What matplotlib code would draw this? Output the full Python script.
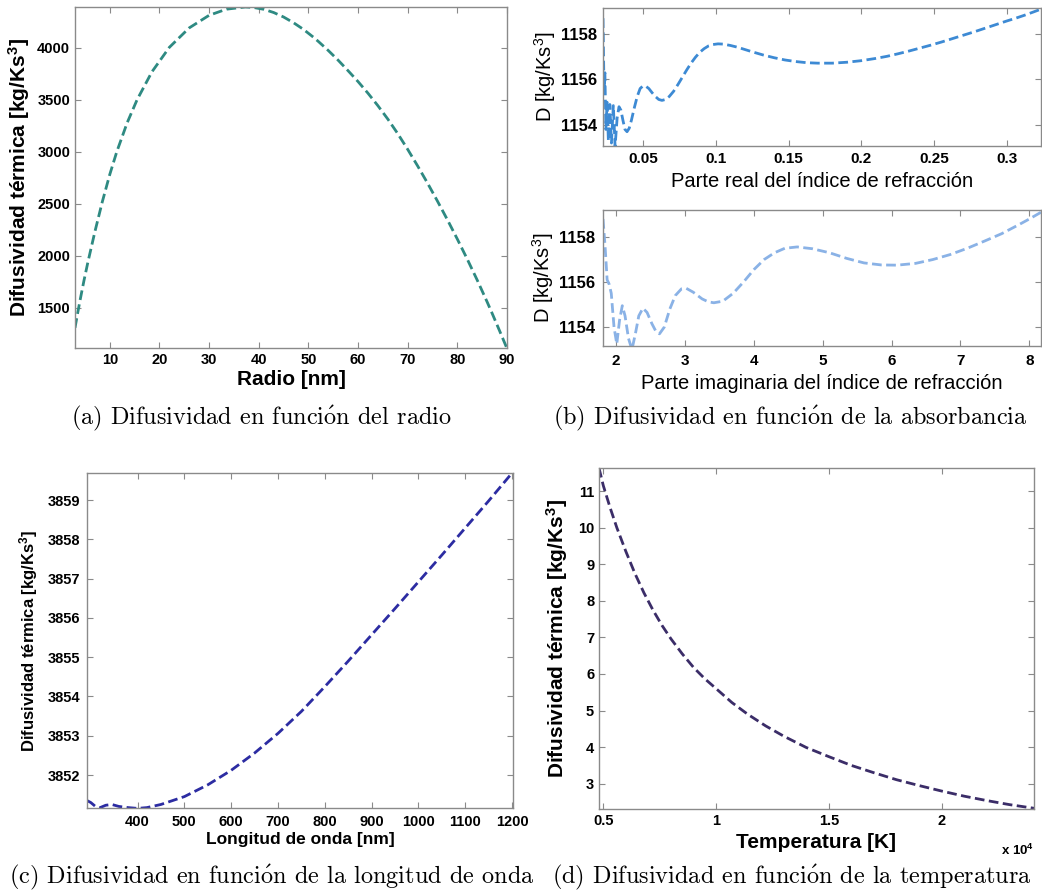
import numpy as np
import matplotlib
matplotlib.use('Agg')
import matplotlib.pyplot as plt
from matplotlib.ticker import FuncFormatter


# (a) difusividad vs radio
radio_nm = [3, 3.5, 4, 4.8, 5.6, 7, 8.5, 10, 11.4, 13.5, 15.5, 18.5, 22, 26,
            30, 33.5, 37.3, 39, 41, 43, 45, 47, 49, 51, 52, 54, 56, 58, 60,
            62, 64, 66, 68, 70, 72, 74, 76, 78, 80, 82, 84, 86, 87, 88.5, 90]
dif_radio = [1309, 1441, 1569, 1762, 1941, 2232, 2521, 2783, 3000, 3280,
             3502, 3771, 4006, 4193, 4314, 4373, 4394, 4389, 4372, 4341,
             4298, 4243, 4179, 4104, 4063, 3976, 3882, 3781, 3677, 3565,
             3445, 3316, 3176, 3025, 2866, 2700, 2527, 2348, 2162, 1969,
             1768, 1558, 1449, 1281, 1110]

# (b) parte real del indice
n_real = [0.0225, 0.0232, 0.0238, 0.0245, 0.0253, 0.0262, 0.0272, 0.0283,
          0.0296, 0.0308, 0.0322, 0.0335, 0.0348, 0.0362, 0.0376, 0.0390,
          0.0405, 0.0420, 0.0440, 0.0460, 0.0480, 0.0500, 0.0520, 0.0540,
          0.0562, 0.0585, 0.0608, 0.0630, 0.0655, 0.0680, 0.0710, 0.0740,
          0.0770, 0.0800, 0.0830, 0.0860, 0.0890, 0.0920, 0.0950, 0.0980,
          0.1015, 0.1050, 0.1100, 0.1150, 0.1200, 0.1250, 0.1325, 0.1400,
          0.1475, 0.1550, 0.1625, 0.1700, 0.1800, 0.1900, 0.2000, 0.2100,
          0.2175, 0.2250, 0.2325, 0.2400, 0.2475, 0.2550, 0.2625, 0.2700,
          0.2775, 0.2850, 0.2925, 0.3000, 0.3060, 0.3120, 0.3180, 0.3234]
dif_real = [1158.7, 1155.6, 1156.3, 1153.8, 1155.0, 1153.3, 1154.9, 1153.2,
            1154.85, 1153.05, 1154.3, 1154.8, 1154.65, 1154.2, 1153.8, 1153.7,
            1153.85, 1154.2, 1154.75, 1155.25, 1155.6, 1155.72, 1155.7, 1155.6,
            1155.42, 1155.25, 1155.12, 1155.08, 1155.12, 1155.25, 1155.48,
            1155.78, 1156.1, 1156.42, 1156.72, 1156.98, 1157.2, 1157.36,
            1157.48, 1157.54, 1157.57, 1157.56, 1157.5, 1157.42, 1157.32,
            1157.22, 1157.08, 1156.96, 1156.86, 1156.79, 1156.74, 1156.72,
            1156.72, 1156.76, 1156.83, 1156.93, 1157.02, 1157.13, 1157.25,
            1157.38, 1157.51, 1157.65, 1157.8, 1157.95, 1158.1, 1158.26,
            1158.42, 1158.58, 1158.7, 1158.83, 1158.97, 1159.1]

# (b) parte imaginaria del indice
n_imag = [1.81, 1.84, 1.87, 1.90, 1.93, 1.97, 2.01, 2.05, 2.09, 2.13, 2.18,
          2.23, 2.28, 2.33, 2.39, 2.45, 2.52, 2.58, 2.63, 2.70, 2.78, 2.86,
          2.95, 3.02, 3.12, 3.25, 3.34, 3.42, 3.55, 3.70, 3.85, 4.00, 4.15,
          4.30, 4.45, 4.63, 4.85, 5.10, 5.35, 5.60, 5.85, 6.08, 6.35, 6.60,
          6.85, 7.10, 7.35, 7.60, 7.85, 8.00, 8.17]
dif_imag = [1158.8, 1157.6, 1156.1, 1155.9, 1155.5, 1154.0, 1153.25, 1154.3,
            1154.95, 1154.5, 1153.5, 1153.0, 1153.7, 1154.5, 1154.84, 1154.65,
            1154.15, 1153.8, 1153.7, 1154.0, 1154.8, 1155.4, 1155.7, 1155.72,
            1155.55, 1155.25, 1155.12, 1155.08, 1155.15, 1155.5, 1156.0,
            1156.55, 1157.0, 1157.3, 1157.5, 1157.56, 1157.48, 1157.3, 1157.05,
            1156.85, 1156.76, 1156.75, 1156.83, 1157.0, 1157.22, 1157.5,
            1157.82, 1158.15, 1158.55, 1158.8, 1159.1]

# (c) longitud de onda
lambda_nm = [292, 300, 310, 320, 332, 345, 360, 380, 400, 420, 450, 500, 550,
             600, 650, 700, 750, 800, 850, 900, 950, 1000, 1050, 1100, 1150,
             1200]
dif_lambda = [3851.35, 3851.3, 3851.2, 3851.17, 3851.23, 3851.25, 3851.2,
              3851.17, 3851.15, 3851.17, 3851.25, 3851.45, 3851.75, 3852.12,
              3852.56, 3853.06, 3853.62, 3854.25, 3854.9, 3855.57, 3856.24,
              3856.92, 3857.6, 3858.29, 3858.98, 3859.69]

# (d) temperatura
temp_K = [4810, 5000, 5300, 5600, 6000, 6400, 6800, 7200, 7600, 8000, 8500,
          9000, 9500, 10000, 10700, 11400, 12200, 13000, 14000, 15000, 16000,
          17000, 18000, 19000, 20000, 21000, 22000, 23000, 24090]
dif_temp = [11.63, 11.15, 10.55, 10.0, 9.35, 8.75, 8.22, 7.75, 7.33, 6.96,
            6.55, 6.18, 5.87, 5.60, 5.22, 4.90, 4.58, 4.30, 3.99, 3.74, 3.50,
            3.30, 3.11, 2.95, 2.80, 2.66, 2.54, 2.43, 2.33]

captions = ['(a) Difusividad en función del radio',
            '(b) Difusividad en función de la absorbancia',
            '(c) Difusividad en función de la longitud de onda',
            '(d) Difusividad en función de la temperatura']

SANS = ['Liberation Sans', 'DejaVu Sans']
YLAB = 'Difusividad térmica [kg/Ks$^3$]'


def style_axes(ax, ticksize=10.5, xticksize=None, pad=3.5):
    for s in ax.spines.values():
        s.set_color('#8a8a8a')
        s.set_linewidth(1.0)
    ax.tick_params(direction='in', length=4, width=0.8, color='#8a8a8a',
                   top=True, right=True, labelsize=ticksize, pad=pad)
    if xticksize:
        ax.tick_params(axis='x', labelsize=xticksize)
    for lab in ax.get_xticklabels() + ax.get_yticklabels():
        lab.set_fontweight('bold')
        lab.set_family(SANS)


def dashed(ax, x, y, color):
    ax.plot(x, y, color=color, lw=2.0, dashes=(3.5, 1.6))


plt.rcParams['font.family'] = SANS
plt.rcParams['mathtext.fontset'] = 'custom'
plt.rcParams['mathtext.rm'] = 'Liberation Sans'
plt.rcParams['mathtext.bf'] = 'Liberation Sans:bold'
plt.rcParams['mathtext.default'] = 'regular'

fig = plt.figure(figsize=(10.42, 8.93), dpi=100)
W, H = 1042, 893


def box(l, r, t, b):
    return [l / W, 1 - b / H, (r - l) / W, (b - t) / H]


gfmt = FuncFormatter(lambda v, p: '%g' % v)

# (a)
ax = fig.add_axes(box(75, 507, 7, 348))
dashed(ax, radio_nm, dif_radio, '#2e8a82')
ax.set_xlim(3, 90)
ax.set_ylim(1115, 4394)
ax.set_xticks(range(10, 91, 10))
ax.set_yticks(range(1500, 4001, 500))
ax.set_ylabel(YLAB, fontsize=15, fontweight='bold', labelpad=4)
ax.set_xlabel('Radio [nm]', fontsize=15, fontweight='bold', labelpad=2)
style_axes(ax)

# (b) top
ax = fig.add_axes(box(603, 1041, 8, 146))
dashed(ax, n_real, dif_real, '#3d8ad4')
ax.set_xlim(0.0225, 0.3234)
ax.set_ylim(1153.07, 1159.15)
ax.set_xticks([0.05, 0.1, 0.15, 0.2, 0.25, 0.3])
ax.set_yticks([1154, 1156, 1158])
ax.xaxis.set_major_formatter(gfmt)
ax.set_ylabel('D [kg/Ks$^3$]', fontsize=14.5, labelpad=2)
ax.set_xlabel('Parte real del índice de refracción', fontsize=14.5,
              labelpad=4)
style_axes(ax, ticksize=12, xticksize=11, pad=4.5)

# (b) bottom
ax = fig.add_axes(box(603, 1041, 210, 346))
dashed(ax, n_imag, dif_imag, '#8ab2e6')
ax.set_xlim(1.81, 8.17)
ax.set_ylim(1153.16, 1159.2)
ax.set_xticks(range(2, 9))
ax.set_yticks([1154, 1156, 1158])
ax.set_ylabel('D [kg/Ks$^3$]', fontsize=14.5, labelpad=2)
ax.set_xlabel('Parte imaginaria del índice de refracción', fontsize=14.5,
              labelpad=4)
style_axes(ax, ticksize=12, xticksize=11, pad=6)

# (c)
ax = fig.add_axes(box(87, 513, 473, 808))
dashed(ax, lambda_nm, dif_lambda, '#2c2ca2')
ax.set_xlim(292, 1202)
ax.set_ylim(3851.16, 3859.69)
ax.set_xticks(range(400, 1201, 100))
ax.set_yticks(range(3852, 3860))
ax.yaxis.set_major_formatter(gfmt)
ax.set_ylabel(YLAB, fontsize=12, fontweight='bold', labelpad=5)
ax.set_xlabel('Longitud de onda [nm]', fontsize=12.5, fontweight='bold',
              labelpad=2)
style_axes(ax, pad=5)

# (d)
ax = fig.add_axes(box(599, 1034, 468, 809))
dashed(ax, np.array(temp_K) / 1e4, dif_temp, '#3b2d68')
ax.set_xlim(0.481, 2.409)
ax.set_ylim(2.31, 11.63)
ax.set_xticks([0.5, 1, 1.5, 2])
ax.set_yticks(range(3, 12))
ax.xaxis.set_major_formatter(gfmt)
ax.set_ylabel(YLAB, fontsize=15, fontweight='bold', labelpad=6)
ax.set_xlabel('Temperatura [K]', fontsize=15, fontweight='bold', labelpad=4)
ax.text(1.0, -0.1, 'x 10$^4$', transform=ax.transAxes, ha='right',
        va='top', fontsize=9.5, fontweight='bold')
style_axes(ax)

# captions (serif, Computer Modern look)
cap_pos = [(261, 418), (790, 418), (272, 877), (792, 877)]
for (cx, cy), txt in zip(cap_pos, captions):
    txt = txt.replace('ó', r'$\mathrm{\acute{o}}$')
    fig.text(cx / W, 1 - cy / H, txt, ha='center', va='center',
             fontsize=17.5, family='cmr10', math_fontfamily='cm')

fig.savefig('out.png', dpi=100)
